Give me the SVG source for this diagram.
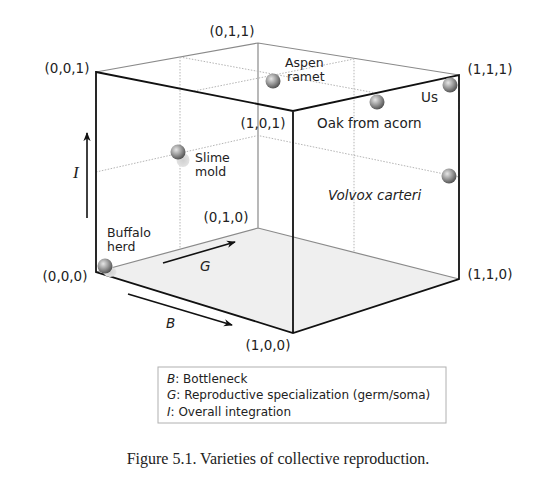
<svg xmlns="http://www.w3.org/2000/svg" width="556" height="481" viewBox="0 0 556 481">
<defs>
<radialGradient id="ball" cx="0.38" cy="0.35" r="0.7">
<stop offset="0" stop-color="#e6e6e6"/>
<stop offset="0.5" stop-color="#9a9a9a"/>
<stop offset="1" stop-color="#4a4a4a"/>
</radialGradient>
<radialGradient id="shadow" cx="0.5" cy="0.5" r="0.5">
<stop offset="0" stop-color="#cfcfcf"/>
<stop offset="1" stop-color="#e2e2e2"/>
</radialGradient>
<marker id="arr" viewBox="0 0 10 10" refX="9" refY="5" markerWidth="9" markerHeight="9" markerUnits="userSpaceOnUse" orient="auto">
<path d="M0,1 L10,5 L0,9 L3,5 Z" fill="#111"/>
</marker>
</defs>
<style>
.lbl{font-family:"DejaVu Sans",Verdana,sans-serif;font-size:13.5px;fill:#222}
.two{font-size:12.5px}
.it{font-style:italic}
.thick{stroke:#111;stroke-width:1.8;fill:none;stroke-linecap:round}
.thin{stroke:#8a8a8a;stroke-width:1.2;fill:none}
.dot{stroke:#b5b5b5;stroke-width:1;stroke-dasharray:1.5 1.5;fill:none}
.axis{stroke:#111;stroke-width:1.6;fill:none;marker-end:url(#arr)}
.leg{font-family:"DejaVu Sans",Verdana,sans-serif;font-size:12px;fill:#222}
</style>
<rect width="556" height="481" fill="#fff"/>
<g id="connectors">
<polygon points="96,272 293,333 459,279 258,228" fill="#efefef"/>
<path class="thin" d="M96,72 L258,43 L459,75 M258,43 L258,228 M96,272 L258,228 L459,279"/>
<path class="dot" d="M180,57 L180,249 M180,57 L376,93 M194,91 L354,59 L354,252 M96,172 L258,135.5 L459,177"/>
<path class="thick" d="M96,72 L293,111 L459,75 L459,279 L293,333 L96,272 Z M293,111 L293,333"/>
<line class="axis" x1="87" y1="218" x2="87" y2="133"/>
<line class="axis" x1="163" y1="263" x2="235" y2="242"/>
<line class="axis" x1="128" y1="294" x2="232" y2="325"/>
</g>
<g id="axis-labels">
<text x="73" y="178" font-family="'Liberation Serif',serif" font-style="italic" font-size="17" fill="#222">I</text>
<text class="lbl it" x="200" y="271" font-size="15">G</text>
<text class="lbl it" x="166" y="328" font-size="15">B</text>
</g>
<g id="vertices" class="lbl">
<text x="232" y="36" text-anchor="middle">(0,1,1)</text>
<text x="67" y="73" text-anchor="middle">(0,0,1)</text>
<text x="263" y="128" text-anchor="middle">(1,0,1)</text>
<text x="490" y="74" text-anchor="middle">(1,1,1)</text>
<text x="226" y="222" text-anchor="middle">(0,1,0)</text>
<text x="65" y="281" text-anchor="middle">(0,0,0)</text>
<text x="268" y="350" text-anchor="middle">(1,0,0)</text>
<text x="490" y="279" text-anchor="middle">(1,1,0)</text>
</g>
<g id="aspen-ramet">
<circle cx="273" cy="81" r="7.5" fill="url(#ball)"/>
<text class="lbl two" x="285" y="67">Aspen<tspan x="287" dy="14">ramet</tspan></text>
</g>
<g id="us">
<circle cx="450" cy="85" r="7.5" fill="url(#ball)"/>
<text class="lbl" x="421" y="102">Us</text>
</g>
<g id="oak-from-acorn">
<circle cx="377" cy="102" r="7.5" fill="url(#ball)"/>
<text class="lbl" x="317" y="128">Oak from acorn</text>
</g>
<g id="slime-mold">
<ellipse cx="183" cy="160" rx="6.5" ry="7" fill="url(#shadow)"/>
<circle cx="178" cy="152" r="7.5" fill="url(#ball)"/>
<text class="lbl two" x="195" y="162">Slime<tspan x="195" dy="14">mold</tspan></text>
</g>
<g id="volvox-carteri">
<circle cx="449" cy="176" r="7.5" fill="url(#ball)"/>
<text class="lbl it" x="328" y="200" font-size="15">Volvox carteri</text>
</g>
<g id="buffalo-herd">
<ellipse cx="110" cy="272" rx="6.5" ry="5" fill="url(#shadow)"/>
<circle cx="105" cy="266" r="7.5" fill="url(#ball)"/>
<text class="lbl two" x="107" y="237">Buffalo<tspan x="107" dy="14">herd</tspan></text>
</g>
<g id="legend">
<rect x="158" y="367" width="288" height="56" fill="#fff" stroke="#b0b0b0" stroke-width="1"/>
<text class="leg" x="167" y="383"><tspan font-style="italic">B</tspan>: Bottleneck</text>
<text class="leg" x="167" y="399"><tspan font-style="italic">G</tspan>: Reproductive specialization (germ/soma)</text>
<text class="leg" x="167" y="416"><tspan font-style="italic">I</tspan>: Overall integration</text>
</g>
<g id="caption">
<text x="278" y="464" text-anchor="middle" font-family="'Liberation Serif',serif" font-size="16" fill="#222">Figure 5.1. Varieties of collective reproduction.</text>
</g>
</svg>
